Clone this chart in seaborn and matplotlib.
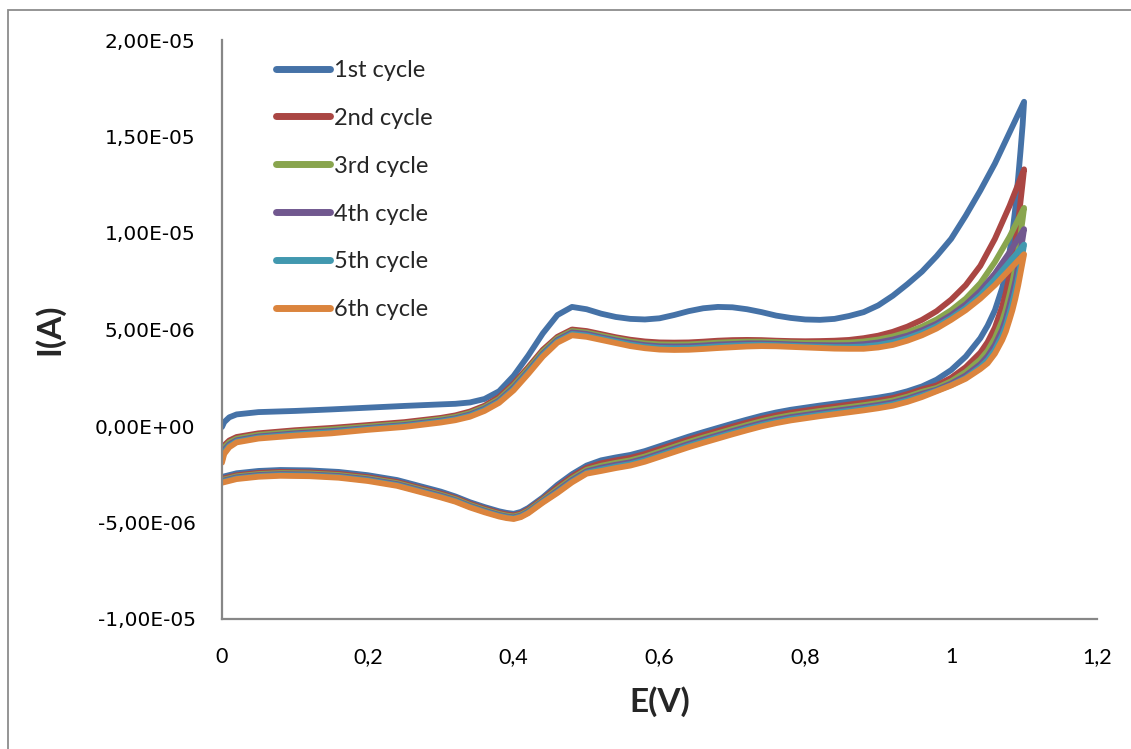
import matplotlib
matplotlib.use("Agg")
import matplotlib.pyplot as plt
import matplotlib.patches as mpatches
from matplotlib.ticker import FuncFormatter
import numpy as np
import pandas as pd
import seaborn as sns

# Potential grids (V): anodic sweep 0 -> 1.1 V, cathodic sweep 1.1 -> 0 V
e_forward = [0.0, 0.003, 0.01, 0.02, 0.05, 0.1, 0.15, 0.2, 0.25, 0.3, 0.32, 0.34, 0.36, 0.38,
             0.4, 0.42, 0.44, 0.46, 0.48, 0.5, 0.52, 0.54, 0.56, 0.58, 0.6, 0.62, 0.64, 0.66,
             0.68, 0.7, 0.72, 0.74, 0.76, 0.78, 0.8, 0.82, 0.84, 0.86, 0.88, 0.9, 0.92, 0.94,
             0.96, 0.98, 1.0, 1.02, 1.04, 1.06, 1.08, 1.1]
e_reverse = [1.1, 1.098, 1.095, 1.092, 1.088, 1.084, 1.08, 1.075, 1.07, 1.06, 1.05, 1.04,
             1.02, 1.0, 0.98, 0.96, 0.94, 0.92, 0.9, 0.88, 0.86, 0.84, 0.82, 0.8, 0.78, 0.76,
             0.74, 0.72, 0.7, 0.68, 0.66, 0.64, 0.62, 0.6, 0.58, 0.56, 0.54, 0.52, 0.5, 0.48,
             0.46, 0.44, 0.42, 0.41, 0.4, 0.39, 0.38, 0.36, 0.34, 0.32, 0.3, 0.27, 0.24, 0.2,
             0.16, 0.12, 0.08, 0.05, 0.02, 0.0]

cycles = ["1st cycle", "2nd cycle", "3rd cycle", "4th cycle", "5th cycle", "6th cycle"]

# Currents in microamperes, anodic sweep
fwd_1 = [-0.05, 0.2, 0.45, 0.6, 0.72, 0.78, 0.86, 0.95, 1.04, 1.12, 1.15, 1.22, 1.4, 1.8,
         2.6, 3.65, 4.8, 5.75, 6.17, 6.05, 5.82, 5.65, 5.55, 5.52, 5.58, 5.75, 5.95, 6.1,
         6.17, 6.15, 6.05, 5.9, 5.72, 5.6, 5.52, 5.5, 5.55, 5.7, 5.9, 6.25, 6.75, 7.35,
         8.0, 8.8, 9.7, 10.9, 12.2, 13.6, 15.2, 16.8]
fwd_2 = [-1.35, -1.0, -0.75, -0.57, -0.38, -0.22, -0.1, 0.05, 0.2, 0.42, 0.55, 0.75, 1.05, 1.5,
         2.2, 3.05, 3.95, 4.62, 5.0, 4.92, 4.76, 4.6, 4.47, 4.38, 4.33, 4.32, 4.33, 4.37,
         4.42, 4.45, 4.46, 4.45, 4.42, 4.4, 4.39, 4.4, 4.42, 4.46, 4.55, 4.68, 4.88, 5.15,
         5.5, 5.95, 6.55, 7.3, 8.3, 9.7, 11.4, 13.3]
fwd_3 = [-1.5, -1.12, -0.85, -0.66, -0.46, -0.3, -0.18, -0.03, 0.12, 0.35, 0.47, 0.67, 0.97, 1.4,
         2.1, 2.95, 3.85, 4.54, 4.92, 4.84, 4.68, 4.52, 4.38, 4.28, 4.23, 4.22, 4.23, 4.27,
         4.32, 4.35, 4.37, 4.37, 4.35, 4.32, 4.3, 4.3, 4.3, 4.32, 4.38, 4.48, 4.64, 4.86,
         5.15, 5.52, 6.0, 6.6, 7.4, 8.5, 9.8, 11.3]
fwd_4 = [-1.65, -1.24, -0.95, -0.74, -0.54, -0.38, -0.26, -0.1, 0.05, 0.28, 0.4, 0.6, 0.9, 1.32,
         2.0, 2.85, 3.75, 4.46, 4.85, 4.77, 4.6, 4.44, 4.3, 4.19, 4.13, 4.12, 4.13, 4.17,
         4.22, 4.25, 4.28, 4.28, 4.26, 4.23, 4.2, 4.19, 4.18, 4.19, 4.24, 4.33, 4.48, 4.68,
         4.96, 5.3, 5.75, 6.3, 7.0, 7.9, 9.0, 10.2]
fwd_5 = [-1.78, -1.35, -1.03, -0.8, -0.6, -0.44, -0.32, -0.15, 0.0, 0.23, 0.35, 0.54, 0.84, 1.26,
         1.92, 2.78, 3.68, 4.39, 4.77, 4.69, 4.53, 4.37, 4.22, 4.11, 4.05, 4.03, 4.04, 4.08,
         4.13, 4.17, 4.2, 4.21, 4.19, 4.16, 4.13, 4.11, 4.09, 4.09, 4.12, 4.2, 4.34, 4.55,
         4.83, 5.17, 5.6, 6.12, 6.78, 7.6, 8.5, 9.4]
fwd_6 = [-1.9, -1.45, -1.1, -0.85, -0.65, -0.5, -0.38, -0.2, -0.05, 0.18, 0.3, 0.48, 0.78, 1.2,
         1.85, 2.7, 3.6, 4.32, 4.7, 4.62, 4.46, 4.3, 4.14, 4.03, 3.96, 3.94, 3.95, 3.99,
         4.04, 4.08, 4.12, 4.14, 4.13, 4.1, 4.07, 4.04, 4.01, 4.0, 4.0, 4.07, 4.2, 4.42,
         4.7, 5.05, 5.5, 6.0, 6.6, 7.3, 8.1, 8.9]

# Currents in microamperes, cathodic sweep
rev_1 = [16.8, 15.6, 14.2, 12.9, 11.3, 10.0, 9.0, 7.95, 7.15, 6.0, 5.2, 4.55, 3.6, 2.9, 2.4,
         2.05, 1.8, 1.6, 1.47, 1.36, 1.26, 1.16, 1.06, 0.95, 0.84, 0.7, 0.53, 0.33, 0.12, -0.1,
         -0.32, -0.55, -0.8, -1.05, -1.3, -1.5, -1.63, -1.78, -2.05, -2.5, -3.05,
         -3.7, -4.25, -4.45, -4.55, -4.5, -4.42, -4.2, -3.95, -3.65,
         -3.4, -3.1, -2.8, -2.55, -2.38, -2.3, -2.28, -2.33, -2.45, -2.64]
rev_2 = [13.3, 12.6, 11.6, 10.6, 9.5, 8.6, 7.8, 6.9, 6.2, 5.1, 4.35, 3.8, 3.05, 2.5, 2.1,
         1.9, 1.65, 1.45, 1.32, 1.21, 1.11, 1.01, 0.91, 0.8, 0.69, 0.55, 0.38, 0.18, -0.03, -0.25,
         -0.47, -0.7, -0.95, -1.2, -1.45, -1.65, -1.78, -1.93, -2.17, -2.62, -3.17,
         -3.78, -4.33, -4.53, -4.63, -4.58, -4.5, -4.28, -4.03, -3.73,
         -3.5, -3.2, -2.9, -2.65, -2.48, -2.4, -2.38, -2.43, -2.55, -2.74]
rev_3 = [11.3, 10.7, 9.9, 9.1, 8.2, 7.45, 6.8, 6.05, 5.45, 4.55, 3.9, 3.45, 2.8, 2.32, 1.97,
         1.77, 1.52, 1.32, 1.19, 1.08, 0.98, 0.88, 0.78, 0.67, 0.56, 0.42, 0.25, 0.05, -0.16, -0.38,
         -0.6, -0.83, -1.08, -1.33, -1.58, -1.78, -1.91, -2.06, -2.27, -2.72, -3.27,
         -3.84, -4.39, -4.59, -4.69, -4.64, -4.56, -4.34, -4.09, -3.79,
         -3.56, -3.26, -2.96, -2.71, -2.54, -2.46, -2.44, -2.49, -2.61, -2.8]
rev_4 = [10.2, 9.7, 9.0, 8.3, 7.5, 6.85, 6.25, 5.55, 5.0, 4.2, 3.62, 3.2, 2.62, 2.2, 1.88,
         1.67, 1.42, 1.22, 1.09, 0.98, 0.88, 0.78, 0.68, 0.57, 0.46, 0.32, 0.15, -0.05, -0.26, -0.48,
         -0.7, -0.93, -1.18, -1.43, -1.68, -1.88, -2.01, -2.16, -2.35, -2.8, -3.35,
         -3.89, -4.44, -4.64, -4.74, -4.69, -4.61, -4.39, -4.14, -3.84,
         -3.61, -3.31, -3.01, -2.76, -2.59, -2.51, -2.49, -2.54, -2.66, -2.85]
rev_5 = [9.4, 8.95, 8.35, 7.7, 7.0, 6.4, 5.85, 5.2, 4.7, 3.95, 3.42, 3.05, 2.5, 2.12, 1.83,
         1.58, 1.33, 1.13, 1.0, 0.89, 0.79, 0.69, 0.59, 0.48, 0.37, 0.23, 0.06, -0.14, -0.35, -0.57,
         -0.79, -1.02, -1.27, -1.52, -1.77, -1.97, -2.1, -2.25, -2.42, -2.87, -3.42,
         -3.93, -4.48, -4.68, -4.78, -4.73, -4.65, -4.43, -4.18, -3.88,
         -3.66, -3.36, -3.06, -2.81, -2.64, -2.56, -2.54, -2.59, -2.71, -2.9]
rev_6 = [8.9, 8.5, 7.9, 7.3, 6.6, 6.0, 5.5, 4.9, 4.45, 3.75, 3.25, 2.95, 2.45, 2.1, 1.8,
         1.5, 1.25, 1.05, 0.92, 0.81, 0.71, 0.61, 0.51, 0.4, 0.29, 0.15, -0.02, -0.22, -0.43, -0.65,
         -0.87, -1.1, -1.35, -1.6, -1.85, -2.05, -2.18, -2.33, -2.47, -2.92, -3.47,
         -3.97, -4.52, -4.72, -4.82, -4.77, -4.69, -4.47, -4.22, -3.92,
         -3.7, -3.4, -3.1, -2.85, -2.68, -2.6, -2.58, -2.63, -2.75, -2.94]

forward_sweeps = [fwd_1, fwd_2, fwd_3, fwd_4, fwd_5, fwd_6]
reverse_sweeps = [rev_1, rev_2, rev_3, rev_4, rev_5, rev_6]

colors = ["#4572A7", "#AA4643", "#89A54E", "#71588F", "#4198AF", "#DB843D"]

y_ticks = [-1.0e-5, -5.0e-6, 0.0, 5.0e-6, 1.0e-5, 1.5e-5, 2.0e-5]
x_ticks = [0.0, 0.2, 0.4, 0.6, 0.8, 1.0, 1.2]

# Long-form table: one closed loop per cycle, kept in scan order
frames = []
for name, fwd, rev in zip(cycles, forward_sweeps, reverse_sweeps):
    e = list(e_forward) + list(e_reverse)
    i_amp = (np.array(list(fwd) + list(rev)) * 1e-6).tolist()
    frames.append(pd.DataFrame({"E": e, "I": i_amp, "cycle": name}))
df = pd.concat(frames, ignore_index=True)

sns.set_theme(style="white")
plt.rcParams["font.family"] = ["Lato", "DejaVu Sans"]

W, H = 1131, 749
fig = plt.figure(figsize=(W / 100, H / 100), dpi=100)
ax = fig.add_axes([222 / W, 1 - 619 / H, (1097 - 222) / W, (619 - 40) / H])

sns.lineplot(data=df, x="E", y="I", hue="cycle", hue_order=cycles, palette=colors,
             sort=False, estimator=None, linewidth=4.2, ax=ax,
             solid_capstyle="round", solid_joinstyle="round")

ax.set_xlim(0, 1.2)
ax.set_ylim(-1.0e-5, 2.0e-5)
ax.set_xticks(x_ticks)
ax.set_yticks(y_ticks)
ax.xaxis.set_major_formatter(FuncFormatter(lambda v, p: f"{v:g}".replace(".", ",")))
ax.yaxis.set_major_formatter(FuncFormatter(lambda v, p: f"{v:.2E}".replace(".", ",")))

axis_gray = "#878787"
for side in ["top", "right"]:
    ax.spines[side].set_visible(False)
for side in ["left", "bottom"]:
    ax.spines[side].set_color(axis_gray)
    ax.spines[side].set_linewidth(1.6)

ax.tick_params(axis="both", which="major", direction="out", length=7, width=1.6,
               color=axis_gray, colors="black")
ax.tick_params(axis="y", labelsize=14.5, pad=12)
ax.tick_params(axis="x", labelsize=15.5, pad=13)
for lbl in ax.get_yticklabels():
    lbl.set_family(["DejaVu Sans"])

ax.set_xlabel("E(V)", fontsize=24, fontweight="bold", labelpad=14)
ax.set_ylabel("I(A)", fontsize=24, fontweight="bold", labelpad=22)
ax.grid(False)

leg = ax.legend(loc="upper left", bbox_to_anchor=(264 / W, 1 - 48 / H),
                bbox_transform=fig.transFigure, frameon=False, fontsize=17,
                handlelength=2.3, handletextpad=0.15, labelspacing=1.14, borderpad=0)
for line in leg.get_lines():
    line.set_linewidth(5)
    line.set_solid_capstyle("round")

# Outer chart-area frame
frame = mpatches.Rectangle((8 / W, -0.1), 1.2, (1 - 10 / H) + 0.1, transform=fig.transFigure,
                           fill=False, edgecolor="#8c8c8c", linewidth=1.3, zorder=0)
fig.patches.append(frame)

fig.savefig("out.png", dpi=100, facecolor="white")
